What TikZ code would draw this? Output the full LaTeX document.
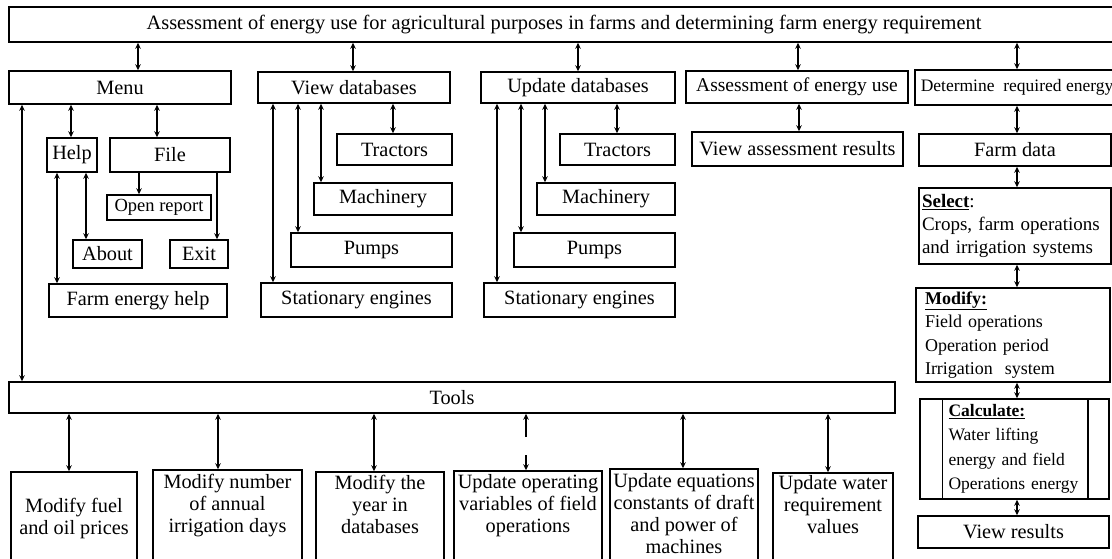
\documentclass[tikz,border=0pt]{standalone}
\usepackage{fontspec}
\setmainfont{Liberation Serif}
\usetikzlibrary{arrows.meta}
\newcommand\bx[7][]{\node[box,#1,minimum width={#5-#3},minimum height={#6-#4}] (#2) at ({(#3+#5)/2},{(#4+#6)/2}) {#7};}
\newcommand\conn[4][dbl]{\coordinate (x#3#4) at (#2,0); \draw[#1] (#3.south -| x#3#4) -- (#4.north -| x#3#4);}
\begin{document}
\begin{tikzpicture}[x=1pt,y=-1pt,
 box/.style={draw=black,line width=1.5pt,inner sep=0pt,align=center,font=\fontsize{20.3}{22}\selectfont},
 dbl/.style={{Stealth[length=6pt,width=5.5pt]}-{Stealth[length=6pt,width=5.5pt]},line width=1.3pt},
 one/.style={-{Stealth[length=6pt,width=5.5pt]},line width=1.3pt}]
\clip (0,0) rectangle (1112,558);
\useasboundingbox (0,0) rectangle (1112,558);
\fill[white] (0,0) rectangle (1112,558);
% top
\bx[font=\fontsize{20.4}{22}\selectfont]{top}{9}{7}{1119}{42}{Assessment of energy use for agricultural purposes in farms and determining farm energy requirement}
% menu column
\bx{menu}{9}{71}{231}{104}{Menu}
\bx{help}{47}{138}{97}{172}{Help}
\bx{file}{110}{138}{230}{172}{File}
\bx[font=\fontsize{18.5}{20}\selectfont]{open}{107}{195}{211}{220}{Open report}
\bx{about}{73}{240}{142}{268}{About}
\bx{exit}{170}{240}{228}{268}{Exit}
\bx{feh}{49}{284}{227}{317}{Farm energy help}
% view databases
\bx{vdb}{258}{72}{450}{103}{View databases}
\bx{vtr}{337}{134}{452}{165}{Tractors}
\bx{vma}{314}{183}{452}{215}{Machinery}
\bx{vpu}{291}{233}{452}{267}{Pumps}
\bx{vst}{261}{283}{452}{317}{Stationary engines}
% update databases
\bx{udb}{481}{72}{675}{103}{Update databases}
\bx{utr}{560}{134}{675}{165}{Tractors}
\bx{uma}{537}{183}{675}{215}{Machinery}
\bx{upu}{514}{233}{675}{267}{Pumps}
\bx{ust}{484}{283}{675}{317}{Stationary engines}
% assessment
\bx[font=\fontsize{19.5}{22}\selectfont]{ass}{686}{71}{908}{103}{Assessment of energy use}
\bx{vres}{692}{132}{903}{166}{View assessment results}
% right column
\node[box,anchor=west,minimum height=35,inner xsep=6pt,font=\fontsize{17.5}{20}\selectfont] (det) at (914,87.5) {Determine\ \ required energy};
\bx{farm}{919}{134}{1111}{166}{Farm data}
\bx[align=left,text width=186,font=\fontsize{19}{23}\selectfont]{sel}{919}{188}{1111}{264}{\textbf{\underline{Select}}:\\Crops, farm operations\\and irrigation systems}
\bx[align=left,text width=176,font=\fontsize{18}{23.5}\selectfont]{mod}{916}{288}{1110}{382}{\textbf{\underline{Modify:}}\\Field operations\\Operation period\\Irrigation\ \ system}
\bx[align=left,text width=132,font=\fontsize{17.5}{24.5}\selectfont]{calc}{920}{399}{1109}{499}{\textbf{\underline{Calculate:}}\\Water lifting\\energy and field\\Operations energy}
\draw[line width=1.5pt] ([xshift=23pt]calc.north west) -- ([xshift=23pt]calc.south west);
\draw[line width=1.5pt] ([xshift=-22pt]calc.north east) -- ([xshift=-22pt]calc.south east);
\bx{vr}{918}{516}{1109}{548}{View results}
% tools
\bx{tools}{9}{382}{895}{413}{Tools}
\bx{fuel}{11}{472}{137}{565}{Modify fuel\\and oil prices}
\bx{num}{153}{470}{302}{565}{Modify number\\of annual\\irrigation days\\\strut}
\bx{year}{316}{472}{444}{565}{Modify the\\year in\\databases\\\strut}
\bx{oper}{454}{471}{602}{565}{Update operating\\variables of field\\operations\\\strut}
\bx{eqn}{610}{469}{758}{565}{Update equations\\constants of draft\\and power of\\machines\strut}
\bx{water}{773}{473}{893}{565}{Update water\\requirement\\values\\\strut}
% connectors
\conn{138}{top}{menu}
\conn{353}{top}{vdb}
\conn{578}{top}{udb}
\conn{798}{top}{ass}
\conn{1017}{top}{det}
\conn{71}{menu}{help}
\conn{157}{menu}{file}
\conn[one]{139}{file}{open}
\conn[one]{217}{file}{exit}
\conn{86}{help}{about}
\conn{57}{help}{feh}
\conn{22}{menu}{tools}
\conn{273}{vdb}{vst}
\conn{298}{vdb}{vpu}
\conn{321}{vdb}{vma}
\conn{393}{vdb}{vtr}
\conn{497}{udb}{ust}
\conn{521}{udb}{upu}
\conn{545}{udb}{uma}
\conn{617}{udb}{utr}
\conn{799}{ass}{vres}
\conn{1017}{det}{farm}
\conn{1017}{farm}{sel}
\conn{1017}{sel}{mod}
\conn{1017}{mod}{calc}
\conn{1017}{calc}{vr}
\conn{69}{tools}{fuel}
\conn{218}{tools}{num}
\conn{374}{tools}{year}
\conn{683}{tools}{eqn}
\conn{828}{tools}{water}
\coordinate (g1) at (526,437);
\coordinate (g2) at (526,455);
\draw[one] (g1) -- (tools.south -| g1);
\draw[one] (g2) -- (oper.north -| g2);
\end{tikzpicture}
\end{document}
